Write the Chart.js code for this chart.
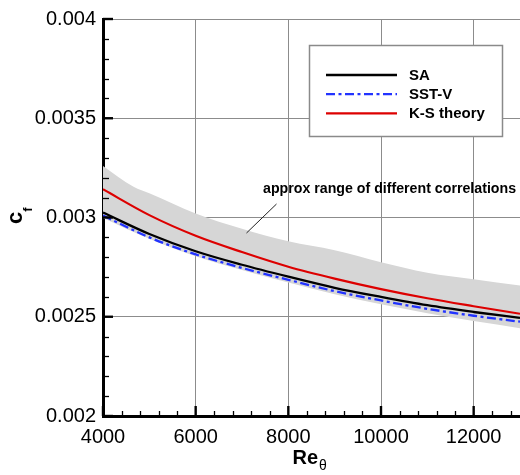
<!DOCTYPE html>
<html>
<head>
<meta charset="utf-8">
<script src="https://cdn.jsdelivr.net/npm/chart.js@4.4.1/dist/chart.umd.min.js"></script>
<style>
  html, body { margin: 0; padding: 0; background: #fff; }
  #wrap { width: 520px; height: 475px; }
</style>
</head>
<body>
<div id="wrap"><canvas id="cf"></canvas></div>
<script>
// Re_theta stations for the model curves
const reTheta = [4000, 5000, 6000, 7000, 8000, 9000, 10000, 11000, 12000, 13000];
const cfSA   = [0.003025, 0.002917, 0.002830, 0.002762, 0.002702, 0.002646, 0.002600, 0.002558, 0.002524, 0.002494];
const cfSSTV = [0.003010, 0.002900, 0.002814, 0.002746, 0.002686, 0.002629, 0.002582, 0.002540, 0.002505, 0.002475];
const cfKS   = [0.003142, 0.003012, 0.002908, 0.002826, 0.002752, 0.002692, 0.002639, 0.002593, 0.002553, 0.002515];

// spread of the different correlations (grey band)
const bandUpperRe = [4000, 4660, 5000, 6000, 7000, 8000, 9000, 10000, 11000, 12000, 13000];
const bandUpper   = [0.003260, 0.003155, 0.003122, 0.003020, 0.002943, 0.002880, 0.002835, 0.002775, 0.002722, 0.002689, 0.002657];
const bandLowerRe = [4000, 5000, 6000, 7000, 8000, 9000, 10000, 11000, 12000, 13000];
const bandLower   = [0.002998, 0.002893, 0.002805, 0.002735, 0.002672, 0.002613, 0.002563, 0.002518, 0.002478, 0.002442];

const xTicks = [4000, 6000, 8000, 10000, 12000];
const yTicks = [0.002, 0.0025, 0.003, 0.0035, 0.004];
const xTickLabels = ['4000', '6000', '8000', '10000', '12000'];
const yTickLabels = ['0.002', '0.0025', '0.003', '0.0035', '0.004'];

const pts = (xs, ys) => xs.map((x, i) => ({ x: x, y: ys[i] }));

Chart.defaults.font.family = "'Liberation Sans', Arial, Helvetica, sans-serif";
Chart.defaults.color = '#000';

// inward major/minor ticks like the plotting package does
const insideTicks = {
  id: 'insideTicks',
  afterDatasetsDraw(chart) {
    const { ctx, chartArea: a, scales: { x, y } } = chart;
    ctx.save();
    ctx.strokeStyle = '#000';
    ctx.lineCap = 'butt';
    ctx.lineWidth = 1.3;
    for (let v = 4400; v < 13000; v += 400) {
      if (xTicks.includes(v)) continue;
      const px = Math.round(x.getPixelForValue(v)) + 0.5;
      ctx.beginPath(); ctx.moveTo(px, a.bottom); ctx.lineTo(px, a.bottom - 5); ctx.stroke();
    }
    for (let k = 21; k < 40; k++) {
      if (k % 5 === 0) continue;
      const py = Math.round(y.getPixelForValue(k / 10000)) + 0.5;
      ctx.beginPath(); ctx.moveTo(a.left, py); ctx.lineTo(a.left + 6, py); ctx.stroke();
    }
    ctx.lineWidth = 2.4;
    xTicks.forEach(v => {
      const px = x.getPixelForValue(v);
      ctx.beginPath(); ctx.moveTo(px, a.bottom); ctx.lineTo(px, a.bottom - 10); ctx.stroke();
    });
    yTicks.forEach(v => {
      const py = y.getPixelForValue(v);
      ctx.beginPath(); ctx.moveTo(a.left, py); ctx.lineTo(a.left + 10, py); ctx.stroke();
    });
    ctx.restore();
  }
};

// legend box, annotation and axis titles with subscripts
const decorations = {
  id: 'decorations',
  afterDraw(chart) {
    const ctx = chart.ctx;
    ctx.save();

    // legend
    ctx.fillStyle = '#fff';
    ctx.fillRect(309, 45, 194, 92);
    ctx.strokeStyle = '#8a8a8a';
    ctx.lineWidth = 1.5;
    ctx.strokeRect(309.5, 45.5, 193, 91);
    const entries = [0, 1, 2];
    entries.forEach((di, i) => {
      const ds = chart.data.datasets[di];
      const yy = 75 + i * 19.2;
      ctx.beginPath();
      ctx.strokeStyle = ds.borderColor;
      ctx.lineWidth = ds.borderWidth;
      ctx.setLineDash(ds.borderDash || []);
      ctx.moveTo(326, yy); ctx.lineTo(397, yy);
      ctx.stroke();
      ctx.setLineDash([]);
      ctx.fillStyle = '#000';
      ctx.font = "bold 15px 'Liberation Sans', Arial, sans-serif";
      ctx.textBaseline = 'middle';
      ctx.textAlign = 'left';
      ctx.fillText(ds.label, 409, yy + 0.5);
    });

    // annotation for the grey band
    ctx.fillStyle = '#000';
    ctx.font = "bold 14.2px 'Liberation Sans', Arial, sans-serif";
    ctx.textBaseline = 'alphabetic';
    ctx.fillText('approx range of different correlations', 263, 193);
    ctx.strokeStyle = '#222';
    ctx.lineWidth = 1;
    ctx.beginPath(); ctx.moveTo(276.5, 204); ctx.lineTo(246.5, 233); ctx.stroke();

    // x title: Re_theta
    ctx.font = "bold 20px 'Liberation Sans', Arial, sans-serif";
    ctx.fillText('Re', 292.5, 463.5);
    const reW = ctx.measureText('Re').width;
    ctx.font = "14px 'Liberation Sans', Arial, sans-serif";
    ctx.fillText('θ', 292.5 + reW + 1, 470);

    // y title: c_f, rotated
    ctx.translate(22, 224);
    ctx.rotate(-Math.PI / 2);
    ctx.font = "bold 22px 'Liberation Sans', Arial, sans-serif";
    ctx.fillText('c', 0, 0);
    const cW = ctx.measureText('c').width;
    ctx.font = "bold 13px 'Liberation Sans', Arial, sans-serif";
    ctx.fillText('f', cW, 10);
    ctx.restore();
  }
};

new Chart(document.getElementById('cf'), {
  type: 'line',
  data: {
    datasets: [
      {
        label: 'SA',
        data: pts(reTheta, cfSA),
        borderColor: '#000000',
        borderWidth: 2.3,
        pointRadius: 0,
        cubicInterpolationMode: 'monotone',
        fill: false
      },
      {
        label: 'SST-V',
        data: pts(reTheta, cfSSTV),
        borderColor: '#2233ff',
        borderWidth: 2.3,
        borderDash: [9, 3.5, 3, 3.5],
        pointRadius: 0,
        cubicInterpolationMode: 'monotone',
        fill: false
      },
      {
        label: 'K-S theory',
        data: pts(reTheta, cfKS),
        borderColor: '#dd0000',
        borderWidth: 2.2,
        pointRadius: 0,
        cubicInterpolationMode: 'monotone',
        fill: false
      },
      {
        label: 'band lower',
        data: pts(bandLowerRe, bandLower),
        borderWidth: 0,
        borderColor: 'rgba(0,0,0,0)',
        pointRadius: 0,
        cubicInterpolationMode: 'monotone',
        fill: false
      },
      {
        label: 'band upper',
        data: pts(bandUpperRe, bandUpper),
        borderWidth: 0,
        borderColor: 'rgba(0,0,0,0)',
        backgroundColor: '#d6d6d6',
        pointRadius: 0,
        cubicInterpolationMode: 'monotone',
        fill: '-1'
      }
    ]
  },
  options: {
    responsive: true,
    maintainAspectRatio: false,
    animation: false,
    layout: { padding: { top: 17, right: 0, bottom: 0, left: 0 } },
    plugins: {
      legend: { display: false },
      tooltip: { enabled: false }
    },
    scales: {
      x: {
        type: 'linear',
        min: 4000,
        max: 13000,
        afterBuildTicks: scale => { scale.ticks = xTicks.map(v => ({ value: v })); },
        afterFit: scale => { scale.height = 59; },
        grid: { color: '#8c8c8c', lineWidth: 1, drawTicks: false },
        border: { color: '#000', width: 3 },
        ticks: {
          padding: 9,
          font: { size: 20 },
          maxRotation: 0,
          callback: v => xTickLabels[xTicks.indexOf(v)]
        }
      },
      y: {
        type: 'linear',
        min: 0.002,
        max: 0.004,
        afterBuildTicks: scale => { scale.ticks = yTicks.map(v => ({ value: v })); },
        afterFit: scale => { scale.width = 103; },
        grid: { color: '#8c8c8c', lineWidth: 1, drawTicks: false },
        border: { color: '#000', width: 3 },
        ticks: {
          padding: 7,
          font: { size: 20 },
          callback: v => yTickLabels[yTicks.indexOf(v)]
        }
      }
    }
  },
  plugins: [insideTicks, decorations]
});
</script>
</body>
</html>
